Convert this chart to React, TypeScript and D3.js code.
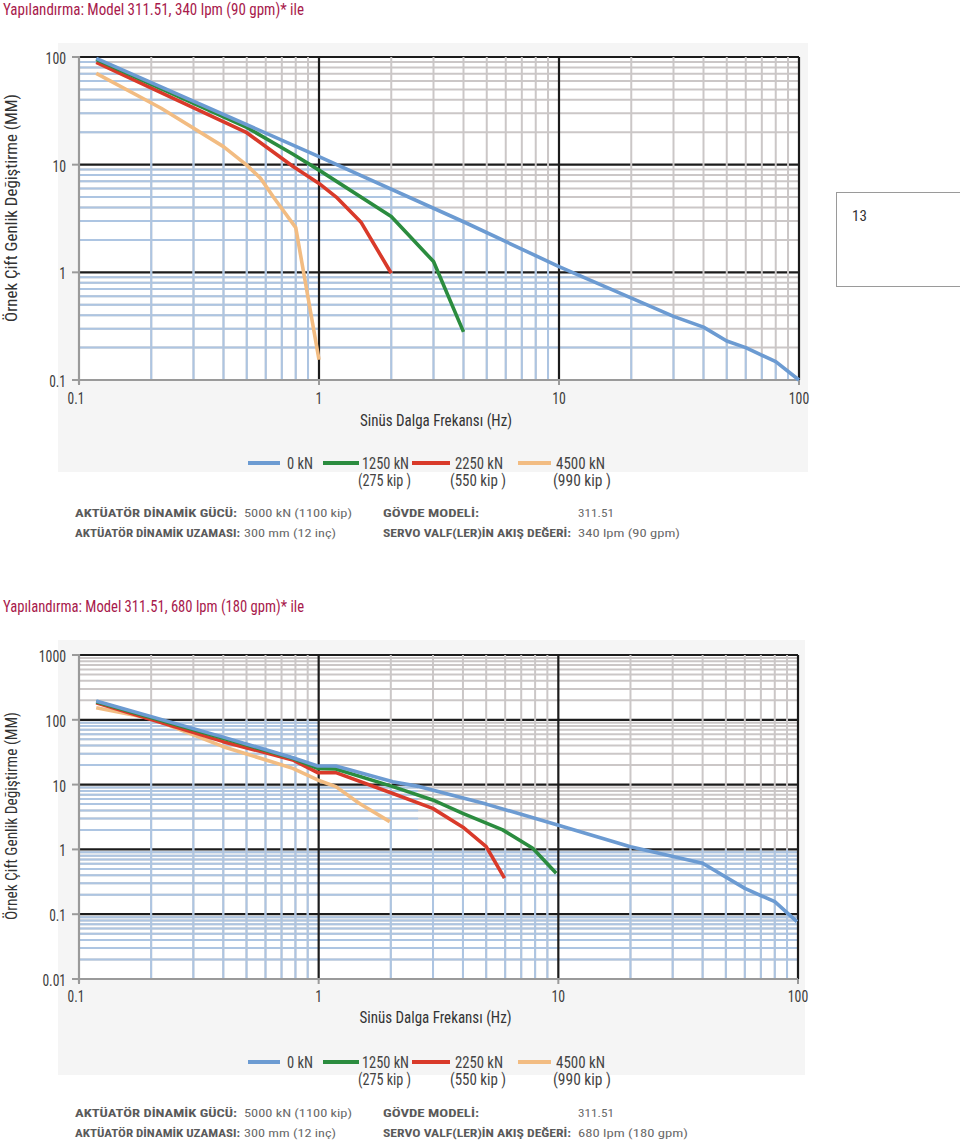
import React from 'react';
import * as d3 from 'd3';

type Pt = [number, number];

/* ── data ─────────────────────────────────────────────── */
const SERIES = ['0 kN', '1250 kN', '2250 kN', '4500 kN'];
const SERIES_KIP = ['', '(275 kip )', '(550 kip )', '(990 kip )'];
const COLORS = ['#6c9bd2', '#2b8c3f', '#d93a2a', '#f2bc82'];

const X_DOMAIN: Pt = [0.1, 100];
const Y_DOMAIN_1: Pt = [0.1, 100];
const Y_DOMAIN_2: Pt = [0.01, 1000];

// 340 lpm (90 gpm) — [Hz, mm]
const A1_0KN: Pt[] = [[0.118, 97], [1, 11.9], [4, 2.95], [10, 1.13], [30, 0.39], [40, 0.31], [50, 0.23], [60, 0.2], [80, 0.148], [100, 0.1]];
const A1_1250: Pt[] = [[0.118, 95], [0.5, 22.2], [0.78, 12.5], [1, 8.9], [2, 3.3], [3, 1.26], [4, 0.28]];
const A1_2250: Pt[] = [[0.118, 89], [0.5, 19.8], [0.78, 9.6], [1, 6.7], [1.18, 5.0], [1.5, 2.9], [2, 0.98]];
const A1_4500: Pt[] = [[0.118, 70.5], [0.22, 33.4], [0.4, 14.7], [0.5, 9.9], [0.57, 7.5], [0.65, 4.9], [0.8, 2.6], [1, 0.154]];

// 680 lpm (180 gpm)
const A2_0KN: Pt[] = [[0.118, 195], [0.4, 54], [0.78, 26], [0.99, 19.4], [1.18, 19.4], [2.04, 11.1], [2.64, 9.3], [5, 5], [9.85, 2.4], [20, 1.1], [40, 0.61], [60, 0.25], [80, 0.156], [99, 0.077]];
const A2_1250: Pt[] = [[0.118, 190], [0.4, 52], [0.78, 25.5], [0.99, 17.8], [1.18, 17.4], [2.04, 9.3], [2.99, 5.8], [3.99, 3.6], [5.86, 2.0], [7.82, 1.04], [9.8, 0.43]];
const A2_2250: Pt[] = [[0.118, 183], [0.4, 46], [0.78, 24], [0.99, 15.3], [1.18, 15.3], [2.04, 7.3], [2.99, 4.3], [4, 2.2], [5, 1.1], [5.96, 0.36]];
const A2_4500: Pt[] = [[0.118, 154], [0.2, 105], [0.4, 38.5], [0.78, 17.8], [0.99, 11.8], [1.18, 9.3], [1.48, 5.1], [1.98, 2.68]];

// blue-tinted grid zone (scanned paper), upper edge
const SHADE_1: Pt[] = [[0.1, 100], ...A1_0KN];
const SHADE_2: Pt[] = [[0.1, 100], [1, 100], [1, 10], [2.6, 10], [2.6, 1], [100, 1]];

const TITLE_1 = 'Yapılandırma: Model 311.51, 340 lpm (90 gpm)* ile';
const TITLE_2 = 'Yapılandırma: Model 311.51, 680 lpm (180 gpm)* ile';
const X_TITLE = 'Sinüs Dalga Frekansı (Hz)';
const Y_TITLE = 'Örnek Çift Genlik Değiştirme (MM)';
const INFO_LABELS = [['AKTÜATÖR DİNAMİK GÜCÜ:', 'GÖVDE MODELİ:'], ['AKTÜATÖR DİNAMİK UZAMASI:', 'SERVO VALF(LER)İN AKIŞ DEĞERİ:']];
const INFO_VALUES_1 = [['5000 kN (1100 kip)', '311.51'], ['300 mm (12 inç)', '340 lpm (90 gpm)']];
const INFO_VALUES_2 = [['5000 kN (1100 kip)', '311.51'], ['300 mm (12 inç)', '680 lpm (180 gpm)']];

/* ── layout ───────────────────────────────────────────── */
const FONT = '"Liberation Sans Narrow", "Roboto Condensed", "Liberation Sans", Arial, sans-serif';
const GRID_GRAY = '#cbc7c7';
const GRID_BLUE = '#adc5e2';

const LEG_LINE = [[248, 280], [323, 359], [412, 450], [518, 551]];
const LEG_TEXT = [[287, 26], [362, 47], [455, 48], [556, 49]];
const LEG_KIP = [[0, 0], [358, 53], [450, 56], [553, 58]];
const INFO_LBL_X = [[75, 162], [383, 96]];
const INFO_LBL_X2 = [[75, 165], [383, 188]];
const INFO_VAL_X = [[244, 108], [578, 36]];

interface Lay {
  panel: number[]; plot: number[]; titleY: number; xLabelY: number; xTitleY: number;
  legendY: number; infoY: number[]; yTitleCY: number; yTitleLen: number; valW2: number;
}
const L1: Lay = { panel: [58, 43, 808, 472], plot: [79, 57, 799, 380], titleY: 15, xLabelY: 404, xTitleY: 426, legendY: 463, infoY: [517, 537], yTitleCY: 208, yTitleLen: 228, valW2: 102 };
const L2: Lay = { panel: [58, 640, 805, 1075], plot: [79, 655, 798, 979], titleY: 612, xLabelY: 1002, xTitleY: 1023, legendY: 1062, infoY: [1117, 1137], yTitleCY: 816, yTitleLen: 208, valW2: 110 };

const isMajor = (v: number) => Math.abs(Math.log10(v) - Math.round(Math.log10(v))) < 1e-6;
const numWidth = (s: string) => s.replace(/\./g, '').length * 6.8 + (s.includes('.') ? 3.2 : 0);

interface Props {
  id: string; title: string; lay: Lay; yDomain: Pt; series: Pt[][]; shade: Pt[]; info: string[][];
}

function Chart({ id, title, lay, yDomain, series, shade, info }: Props) {
  const [px0, py0, px1, py1] = lay.plot;
  const x = d3.scaleLog().domain(X_DOMAIN).range([px0, px1]);
  const y = d3.scaleLog().domain(yDomain).range([py1, py0]);
  const xAll = x.ticks();
  const yAll = y.ticks();
  const xMinor = xAll.filter(v => !isMajor(v));
  const yMinor = yAll.filter(v => !isMajor(v));
  const xMajor = xAll.filter(isMajor);
  const yMajor = yAll.filter(isMajor);
  const line = d3.line<Pt>().x(d => x(d[0])).y(d => y(d[1]));
  const shadePoly = d3.line<Pt>()([
    ...shade.map(d => [x(d[0]), y(d[1])] as Pt),
    [px1, py1], [px0, py1],
  ]) + 'Z';

  const minorH = (c: string) => yMinor.map((v, i) => (
    <line key={i} x1={px0} x2={px1} y1={y(v)} y2={y(v)} stroke={c} strokeWidth={2} />
  ));
  const minorV = (c: string) => xMinor.map((v, i) => (
    <line key={i} x1={x(v)} x2={x(v)} y1={py0} y2={py1} stroke={c} strokeWidth={2} />
  ));
  const [pa, pb, pc, pd] = lay.panel;

  return (
    <g fontFamily={FONT}>
      <text x={3} y={lay.titleY} fontSize={17} fill="#a81a4c" textLength={301} lengthAdjust="spacingAndGlyphs">{title}</text>
      <rect x={pa} y={pb} width={pc - pa} height={pd - pb} fill="#f5f5f5" />
      <rect x={px0} y={py0} width={px1 - px0} height={py1 - py0} fill="#fff" />
      <clipPath id={id}><path d={shadePoly} /></clipPath>

      {/* grid */}
      <g>{minorH(GRID_GRAY)}</g>
      <g clipPath={`url(#${id})`}>{minorH(GRID_BLUE)}</g>
      {yMajor.filter(v => y(v) < py1 - 1).map((v, i) => (
        <line key={i} x1={px0} x2={px1} y1={y(v)} y2={y(v)} stroke="#1c1c1c" strokeWidth={2.2} />
      ))}
      <g>{minorV(GRID_GRAY)}</g>
      <g clipPath={`url(#${id})`}>{minorV(GRID_BLUE)}</g>
      {xMajor.filter(v => x(v) > px0 + 1).map((v, i) => (
        <line key={i} x1={x(v)} x2={x(v)} y1={py0} y2={py1} stroke="#1c1c1c" strokeWidth={2.2} />
      ))}

      {/* axes */}
      <line x1={px0} x2={px0} y1={py0 - 1} y2={py1 + 4} stroke="#9a9a9a" strokeWidth={2.2} />
      <line x1={px0} x2={px1} y1={py1} y2={py1} stroke="#9a9a9a" strokeWidth={2.2} />
      {yMajor.map((v, i) => (
        <g key={i}>
          <line x1={px0 - 7} x2={px0} y1={y(v)} y2={y(v)} stroke="#9a9a9a" strokeWidth={2} />
          <text x={66} y={y(v) + 7} fontSize={16} fill="#3c3c3c" textAnchor="end"
            textLength={numWidth(String(v))} lengthAdjust="spacingAndGlyphs">{String(v)}</text>
        </g>
      ))}
      {xMajor.map((v, i) => (
        <g key={i}>
          <line x1={x(v)} x2={x(v)} y1={py1} y2={py1 + 5} stroke="#9a9a9a" strokeWidth={2} />
          <text x={x(v) - (i === 0 ? 3 : 0)} y={lay.xLabelY} fontSize={16} fill="#3c3c3c" textAnchor="middle"
            textLength={numWidth(String(v))} lengthAdjust="spacingAndGlyphs">{String(v)}</text>
        </g>
      ))}

      {/* curves, heaviest load drawn first */}
      {series.map((s, i) => ({ s, i })).reverse().map(({ s, i }) => (
        <path key={i} d={line(s) || ''} fill="none" stroke={COLORS[i]} strokeWidth={3.6} strokeLinejoin="round" />
      ))}

      <text x={(px0 + px1) / 2 - 3} y={lay.xTitleY} fontSize={16.5} fill="#333" textAnchor="middle" textLength={152} lengthAdjust="spacingAndGlyphs">{X_TITLE}</text>
      <text transform={`translate(17,${lay.yTitleCY}) rotate(-90)`} fontSize={16} fill="#333" textAnchor="middle" textLength={lay.yTitleLen} lengthAdjust="spacingAndGlyphs">{Y_TITLE}</text>

      {/* legend */}
      {SERIES.map((name, i) => (
        <g key={i}>
          <line x1={LEG_LINE[i][0]} x2={LEG_LINE[i][1]} y1={lay.legendY} y2={lay.legendY} stroke={COLORS[i]} strokeWidth={4} />
          <text x={LEG_TEXT[i][0]} y={lay.legendY + 5.5} fontSize={16} fill="#444" textLength={LEG_TEXT[i][1]} lengthAdjust="spacingAndGlyphs">{name}</text>
          {SERIES_KIP[i] && (
            <text x={LEG_KIP[i][0]} y={lay.legendY + 23} fontSize={16} fill="#444" textLength={LEG_KIP[i][1]} lengthAdjust="spacingAndGlyphs">{SERIES_KIP[i]}</text>
          )}
        </g>
      ))}

      {/* spec rows */}
      {INFO_LABELS.map((row, r) => row.map((lbl, c) => {
        const pos = r === 0 ? INFO_LBL_X[c] : INFO_LBL_X2[c];
        const vx = INFO_VAL_X[c][0];
        const vw = r === 1 && c === 1 ? lay.valW2 : r === 1 && c === 0 ? 92 : INFO_VAL_X[c][1];
        return (
          <g key={`${r}-${c}`}>
            <text x={pos[0]} y={lay.infoY[r]} fontSize={11} fontWeight="bold" fill="#5a5a5a" textLength={pos[1]} lengthAdjust="spacingAndGlyphs">{lbl}</text>
            <text x={vx} y={lay.infoY[r]} fontSize={11.5} fill="#6a6a6a" textLength={vw} lengthAdjust="spacingAndGlyphs">{info[r][c]}</text>
          </g>
        );
      }))}
    </g>
  );
}

export default function App() {
  return (
    <svg width={960} height={1144} style={{ position: 'absolute', left: 0, top: 0, display: 'block', background: '#fff' }}>
      <Chart id="clip1" title={TITLE_1} lay={L1} yDomain={Y_DOMAIN_1}
        series={[A1_0KN, A1_1250, A1_2250, A1_4500]} shade={SHADE_1} info={INFO_VALUES_1} />
      <Chart id="clip2" title={TITLE_2} lay={L2} yDomain={Y_DOMAIN_2}
        series={[A2_0KN, A2_1250, A2_2250, A2_4500]} shade={SHADE_2} info={INFO_VALUES_2} />
      <rect x={836.5} y={192.5} width={130} height={94} fill="#fff" stroke="#9a9a9a" strokeWidth={1} />
      <text x={852} y={221} fontSize={15} fill="#333" fontFamily={FONT}>13</text>
    </svg>
  );
}
